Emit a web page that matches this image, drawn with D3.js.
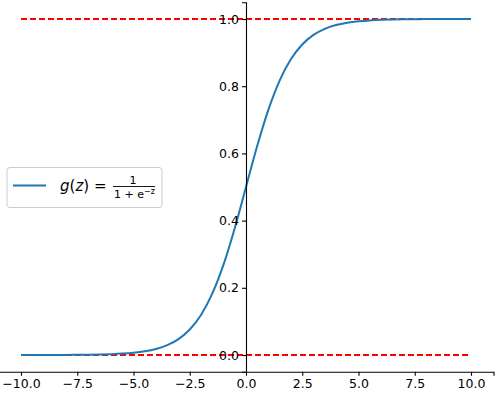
<!DOCTYPE html>
<html>
<head>
<meta charset="utf-8">
<script src="https://cdn.jsdelivr.net/npm/d3@7"></script>
<style>
  html, body { margin: 0; padding: 0; background: #fff; }
  svg text { font-family: "DejaVu Sans", sans-serif; }
</style>
</head>
<body>
<svg id="chart" width="503" height="398"></svg>
<script>
// ---- data ----
const zValues = [-10,-9.5,-9,-8.5,-8,-7.5,-7,-6.5,-6,-5.5,-5,-4.5,-4,-3.5,-3,-2.5,-2,-1.5,-1,-0.5,
                 0,0.5,1,1.5,2,2.5,3,3.5,4,4.5,5,5.5,6,6.5,7,7.5,8,8.5,9,9.5,10];
const gValues = [0.0000,0.0001,0.0001,0.0002,0.0003,0.0006,0.0009,0.0015,0.0025,0.0041,0.0067,0.0110,0.0180,0.0293,0.0474,0.0759,0.1192,0.1824,0.2689,0.3775,
                 0.5000,0.6225,0.7311,0.8176,0.8808,0.9241,0.9526,0.9707,0.9820,0.9890,0.9933,0.9959,0.9975,0.9985,0.9991,0.9994,0.9997,0.9998,0.9999,0.9999,1.0000];
const refLines = [0, 1];
const xTicks = [-10, -7.5, -5, -2.5, 0, 2.5, 5, 7.5, 10];
const yTicks = [0.0, 0.2, 0.4, 0.6, 0.8, 1.0];

// ---- layout ----
const svg = d3.select("#chart");
const x = d3.scaleLinear().domain([-11, 11]).range([-1.5, 493.5]);
const y = d3.scaleLinear().domain([-0.05, 1.05]).range([371.8, 2.2]);
const fmt = v => (v < 0 ? "\u2212" : "") + Math.abs(v).toFixed(1);

// reference dashed lines
svg.selectAll("line.ref").data(refLines).enter().append("line")
  .attr("x1", x(-10)).attr("x2", x(10))
  .attr("y1", d => y(d)).attr("y2", d => y(d))
  .attr("stroke", "#ff0000").attr("stroke-width", 2)
  .attr("stroke-dasharray", "6,3");

// curve
const pts = zValues.map((z, i) => [z, gValues[i]]);
svg.append("path").datum(pts)
  .attr("fill", "none").attr("stroke", "#1f77b4").attr("stroke-width", 2)
  .attr("d", d3.line().x(d => x(d[0])).y(d => y(d[1])).curve(d3.curveMonotoneX));

// x axis (bottom spine)
const xAxis = svg.append("g").attr("transform", `translate(0,${y(-0.05)})`)
  .call(d3.axisBottom(x).tickValues(xTicks).tickFormat(fmt).tickSizeOuter(0).tickSize(4).tickPadding(3));
// y axis (spine at x = 0)
const yAxis = svg.append("g").attr("transform", `translate(${x(0)},0)`)
  .call(d3.axisLeft(y).tickValues(yTicks).tickFormat(d => d.toFixed(1)).tickSizeOuter(0).tickSize(4).tickPadding(3));
[xAxis, yAxis].forEach(g => {
  g.select(".domain").attr("stroke", "#000").attr("stroke-width", 1.1);
  g.selectAll(".tick line").attr("stroke", "#000").attr("stroke-width", 1.1);
  g.selectAll(".tick text").attr("fill", "#000").style("font-size", "12.5px").style("font-family", "DejaVu Sans, sans-serif");
});

// legend
const leg = svg.append("g");
leg.append("rect").attr("x", 7).attr("y", 167.5).attr("width", 155).attr("height", 40)
  .attr("rx", 3).attr("fill", "#fff").attr("fill-opacity", 0.8).attr("stroke", "#cccccc").attr("stroke-width", 1);
leg.append("line").attr("x1", 13).attr("x2", 46).attr("y1", 185.5).attr("y2", 185.5)
  .attr("stroke", "#1f77b4").attr("stroke-width", 2);
const lt = leg.append("text").attr("x", 60).attr("y", 191).style("font-size", "15px").attr("fill", "#000");
lt.append("tspan").style("font-style", "italic").text("g");
lt.append("tspan").text("(");
lt.append("tspan").style("font-style", "italic").text("z");
lt.append("tspan").text(") =");
leg.append("text").attr("x", 133).attr("y", 184).attr("text-anchor", "middle").style("font-size", "11px").text("1");
leg.append("line").attr("x1", 113).attr("x2", 155).attr("y1", 186.5).attr("y2", 186.5).attr("stroke", "#000").attr("stroke-width", 0.9);
const den = leg.append("text").attr("x", 114).attr("y", 198).style("font-size", "11px");
den.append("tspan").text("1 + e");
den.append("tspan").attr("dy", -4).style("font-size", "8px").text("\u2212z");
</script>
</body>
</html>
